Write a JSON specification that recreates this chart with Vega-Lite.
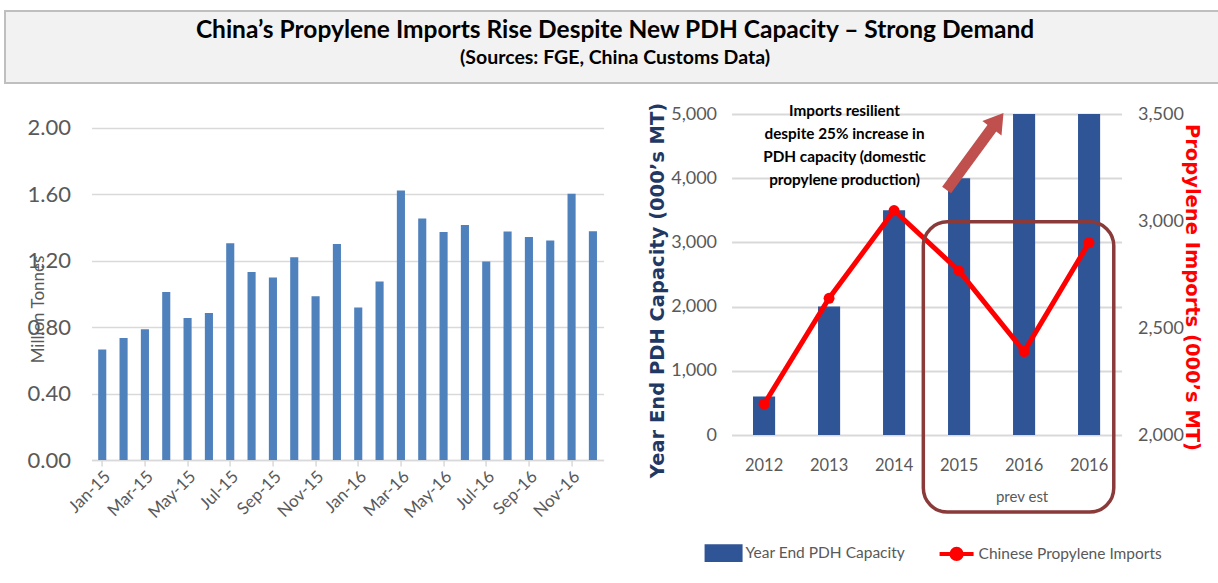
{
  "$schema": "https://vega.github.io/schema/vega-lite/v6.json",
  "padding": {"left": 4, "top": 10, "right": 0, "bottom": 0},
  "background": "white",
  "config": {"view": {"stroke": null}, "font": "Lato"},
  "center": true,
  "spacing": 18,
  "resolve": {"legend": {"color": "independent"}},
  "vconcat": [
    {
      "width": 1282,
      "height": 72,
      "view": {"fill": "#F2F2F2", "stroke": "#BFBFBF", "strokeWidth": 2},
      "data": {"values": [
        {"row": "title", "text": "China’s Propylene Imports Rise Despite New PDH Capacity – Strong Demand"},
        {"row": "sub", "text": "(Sources: FGE, China Customs Data)"}
      ]},
      "layer": [
        {
          "transform": [{"filter": "datum.row === 'title'"}],
          "mark": {"type": "text", "font": "Lato", "fontWeight": "bold", "fontSize": 24.5, "color": "black", "baseline": "middle", "dx": -31},
          "encoding": {
            "y": {"field": "row", "type": "nominal", "axis": null, "scale": {"domain": ["title", "sub"], "range": [20, 47], "padding": 0}},
            "text": {"field": "text"}
          }
        },
        {
          "transform": [{"filter": "datum.row === 'sub'"}],
          "mark": {"type": "text", "font": "Lato", "fontWeight": "bold", "fontSize": 19.5, "color": "black", "baseline": "middle", "dx": -31},
          "encoding": {
            "y": {"field": "row", "type": "nominal", "axis": null, "scale": {"domain": ["title", "sub"], "range": [20, 47], "padding": 0}},
            "text": {"field": "text"}
          }
        }
      ]
    },
    {
      "spacing": 44,
      "resolve": {"legend": {"color": "independent"}},
      "hconcat": [
        {
          "width": 512,
          "height": 346,
          "data": {"values": [
            {"month": "Jan-15", "v": 0.665}, {"month": "Feb-15", "v": 0.735}, {"month": "Mar-15", "v": 0.788},
            {"month": "Apr-15", "v": 1.012}, {"month": "May-15", "v": 0.856}, {"month": "Jun-15", "v": 0.885},
            {"month": "Jul-15", "v": 1.305}, {"month": "Aug-15", "v": 1.133}, {"month": "Sep-15", "v": 1.099},
            {"month": "Oct-15", "v": 1.222}, {"month": "Nov-15", "v": 0.986}, {"month": "Dec-15", "v": 1.301},
            {"month": "Jan-16", "v": 0.919}, {"month": "Feb-16", "v": 1.075}, {"month": "Mar-16", "v": 1.624},
            {"month": "Apr-16", "v": 1.455}, {"month": "May-16", "v": 1.374}, {"month": "Jun-16", "v": 1.416},
            {"month": "Jul-16", "v": 1.196}, {"month": "Aug-16", "v": 1.376}, {"month": "Sep-16", "v": 1.343},
            {"month": "Oct-16", "v": 1.323}, {"month": "Nov-16", "v": 1.604}, {"month": "Dec-16", "v": 1.378}
          ]},
          "mark": {"type": "bar", "color": "#4F81BD"},
          "encoding": {
            "x": {
              "field": "month", "type": "ordinal", "sort": null,
              "scale": {"paddingInner": 0.62, "paddingOuter": 0.31},
              "axis": {
                "title": null,
                "values": ["Jan-15", "Mar-15", "May-15", "Jul-15", "Sep-15", "Nov-15", "Jan-16", "Mar-16", "May-16", "Jul-16", "Sep-16", "Nov-16"],
                "labelAngle": -45, "labelFontSize": 17, "labelColor": "#595959",
                "domainColor": "#D9D9D9", "domainWidth": 1.5, "tickColor": "#D9D9D9", "tickWidth": 1.5, "tickSize": 6,
                "labelPadding": 2
              }
            },
            "y": {
              "field": "v", "type": "quantitative",
              "scale": {"domain": [0, 2.0843], "nice": false},
              "axis": {
                "values": [0, 0.4, 0.8, 1.2, 1.6, 2.0], "format": ".2f",
                "title": "Million Tonnes", "titleFontSize": 17, "titleFontWeight": "normal", "titleColor": "#595959",
                "titleX": -44, "titleY": 195,
                "labelFontSize": 22, "labelColor": "#595959", "labelPadding": 21,
                "domain": false, "ticks": false, "gridColor": "#D9D9D9", "gridWidth": 1.5
              }
            }
          }
        },
        {
          "width": 390,
          "height": 321,
          "layer": [
            {
              "data": {"values": [
                {"cat": "2012", "cap": 600, "series": "Year End PDH Capacity"},
                {"cat": "2013", "cap": 2000, "series": "Year End PDH Capacity"},
                {"cat": "2014", "cap": 3500, "series": "Year End PDH Capacity"},
                {"cat": "2015", "cap": 4000, "series": "Year End PDH Capacity"},
                {"cat": "2016 prev", "cap": 5000, "series": "Year End PDH Capacity"},
                {"cat": "2016 est", "cap": 5000, "series": "Year End PDH Capacity"}
              ]},
              "mark": {"type": "bar"},
              "encoding": {
                "x": {
                  "field": "cat", "type": "ordinal", "sort": null,
                  "scale": {"paddingInner": 0.66, "paddingOuter": 0.33},
                  "axis": {
                    "title": "prev est", "titleFontSize": 15, "titleFontWeight": "normal", "titleColor": "#595959",
                    "titleX": 290, "titlePadding": 16,
                    "labelExpr": "slice(datum.value, 0, 4)", "labelAngle": 0, "labelFontSize": 16.5, "labelColor": "#595959",
                    "labelPadding": 22, "domain": false, "ticks": false
                  }
                },
                "y": {
                  "field": "cap", "type": "quantitative",
                  "scale": {"domain": [0, 5000], "nice": false},
                  "axis": {
                    "orient": "left", "values": [0, 1000, 2000, 3000, 4000, 5000], "format": ",.0f",
                    "title": "Year End PDH Capacity (000’s MT)", "titleFont": "DejaVu Sans", "titleFontSize": 19.5, "titleFontWeight": "bold", "titleColor": "#1F3864",
                    "titleY": 176, "titlePadding": 3,
                    "labelFontSize": 18, "labelColor": "#595959", "labelPadding": 15,
                    "domain": false, "ticks": false, "gridColor": "#D9D9D9", "gridWidth": 2
                  }
                },
                "color": {
                  "field": "series", "type": "nominal",
                  "scale": {"domain": ["Year End PDH Capacity", "Chinese Propylene Imports"], "range": ["#2F5597", "#FF0000"]},
                  "legend": {
                    "title": null, "orient": "none", "legendX": -27, "legendY": 420, "direction": "horizontal",
                    "labelFontSize": 15.5, "labelColor": "#595959", "labelLimit": 400,
                    "symbolSize": 1156, "columnPadding": 26, "labelOffset": 3,
                    "encode": {
                      "symbols": {"update": {
                        "shape": {"signal": "datum.value === 'Year End PDH Capacity' ? 'M-1,-0.4H1V0.4H-1Z' : 'M-1,0H1M-0.3,0A0.3,0.3,0,1,1,0.3,0A0.3,0.3,0,1,1,-0.3,0Z'"},
                        "fill": {"signal": "datum.value === 'Year End PDH Capacity' ? '#2F5597' : '#FF0000'"},
                        "stroke": {"signal": "datum.value === 'Year End PDH Capacity' ? '#2F5597' : '#FF0000'"},
                        "strokeWidth": {"value": 4},
                        "opacity": {"value": 1}
                      }}
                    }
                  }
                }
              }
            },
            {
              "data": {"values": [
                {"cat": "2012", "imp": 2144, "series": "Chinese Propylene Imports"},
                {"cat": "2013", "imp": 2639, "series": "Chinese Propylene Imports"},
                {"cat": "2014", "imp": 3049, "series": "Chinese Propylene Imports"},
                {"cat": "2015", "imp": 2767, "series": "Chinese Propylene Imports"},
                {"cat": "2016 prev", "imp": 2390, "series": "Chinese Propylene Imports"},
                {"cat": "2016 est", "imp": 2899, "series": "Chinese Propylene Imports"}
              ]},
              "encoding": {
                "x": {"field": "cat", "type": "ordinal", "sort": null, "axis": null},
                "y": {
                  "field": "imp", "type": "quantitative",
                  "scale": {"domain": [2000, 3500], "nice": false},
                  "axis": {
                    "orient": "right", "values": [2000, 2500, 3000, 3500], "format": ",.0f",
                    "title": "Propylene Imports (000’s MT)", "titleFont": "DejaVu Sans", "titleFontSize": 19.5, "titleFontWeight": "bold", "titleColor": "#FF0000",
                    "titlePadding": -2, "titleY": 173,
                    "labelFontSize": 18, "labelColor": "#595959", "labelPadding": 16,
                    "domain": false, "ticks": false, "grid": false
                  }
                }
              },
              "layer": [
                {
                  "mark": {"type": "line", "strokeWidth": 5},
                  "encoding": {"color": {"field": "series", "type": "nominal"}}
                },
                {
                  "mark": {"type": "point", "filled": true, "size": 120, "color": "#FF0000", "opacity": 1}
                }
              ]
            },
            {
              "data": {"values": [
                {"part": "box", "x": 2.95, "x2": 5.88, "y": 3320, "y2": -1200}
              ]},
              "mark": {"type": "rect", "fill": "transparent", "stroke": "#8B3A3A", "strokeWidth": 3.5, "cornerRadius": 24, "clip": false},
              "encoding": {
                "x": {"field": "x", "type": "quantitative", "scale": {"domain": [0, 6], "nice": false, "zero": false}, "axis": null},
                "x2": {"field": "x2"},
                "y": {"field": "y", "type": "quantitative", "scale": {"domain": [0, 5000], "nice": false}, "axis": null},
                "y2": {"field": "y2"}
              }
            },
            {
              "data": {"values": [
                {"x": 3.308, "y": 3816, "x2": 4.03, "y2": 4813}
              ]},
              "mark": {"type": "rule", "stroke": "#C0504D", "strokeWidth": 11, "strokeCap": "butt", "clip": false},
              "encoding": {
                "x": {"field": "x", "type": "quantitative", "scale": {"domain": [0, 6], "nice": false, "zero": false}, "axis": null},
                "x2": {"field": "x2"},
                "y": {"field": "y", "type": "quantitative", "scale": {"domain": [0, 5000], "nice": false}, "axis": null},
                "y2": {"field": "y2"}
              }
            },
            {
              "data": {"values": [
                {"x": 4.072, "y": 4868}
              ]},
              "mark": {"type": "point", "shape": "M0,-1L1,0.6L-1,0.6Z", "size": 576, "angle": 37, "filled": true, "color": "#C0504D", "opacity": 1, "clip": false},
              "encoding": {
                "x": {"field": "x", "type": "quantitative", "scale": {"domain": [0, 6], "nice": false, "zero": false}, "axis": null},
                "y": {"field": "y", "type": "quantitative", "scale": {"domain": [0, 5000], "nice": false}, "axis": null}
              }
            },
            {
              "data": {"values": [
                {"x": 1.738, "y": 5156, "note": "Imports resilient\ndespite 25% increase in\nPDH capacity (domestic\npropylene production)"}
              ]},
              "mark": {"type": "text", "font": "Lato", "fontWeight": "bold", "fontSize": 15.3, "color": "black", "baseline": "top", "align": "center", "lineBreak": "\n", "lineHeight": 23, "clip": false},
              "encoding": {
                "x": {"field": "x", "type": "quantitative", "scale": {"domain": [0, 6], "nice": false, "zero": false}, "axis": null},
                "y": {"field": "y", "type": "quantitative", "scale": {"domain": [0, 5000], "nice": false}, "axis": null},
                "text": {"field": "note"}
              }
            }
          ],
          "resolve": {"scale": {"x": "independent", "y": "independent"}}
        }
      ]
    }
  ]
}
